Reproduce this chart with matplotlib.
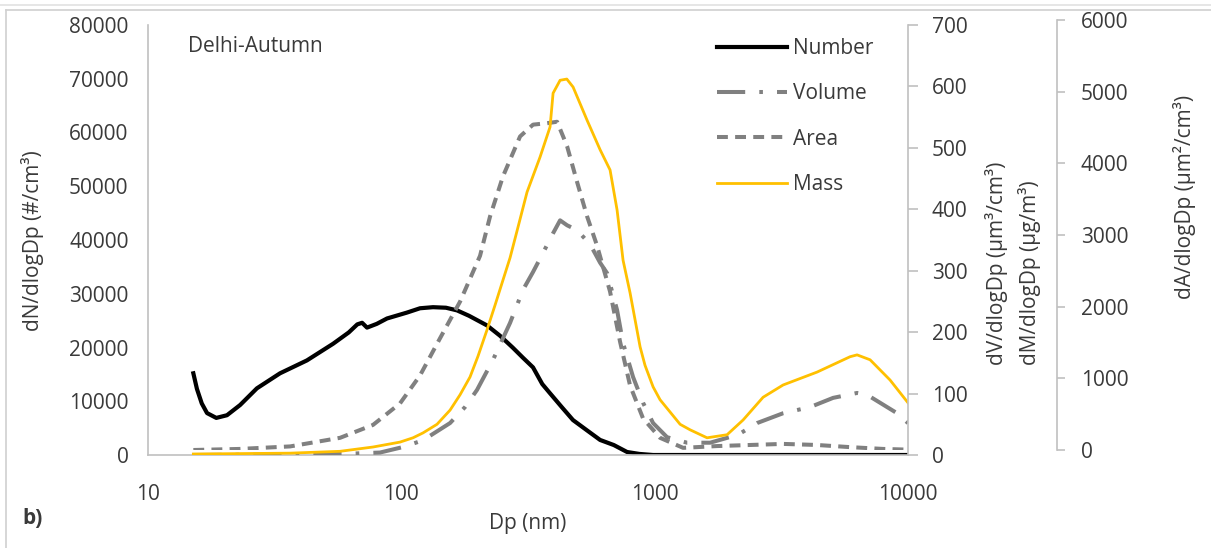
import matplotlib
matplotlib.use("Agg")
import matplotlib.pyplot as plt
from matplotlib.lines import Line2D
from matplotlib.ticker import NullLocator

plt.rcParams['font.family'] = ['Open Sans', 'DejaVu Sans']

# size distributions, Delhi autumn campaign (Dp in nm)
num_dp = [15.1, 15.6, 16.3, 17.1, 18.6, 20.5, 23.1, 26.9, 33.2, 42.4,
          53.8, 62, 67, 70, 73.2, 80, 87.8, 105.3, 118.5, 133.4,
          150, 166, 185, 218, 245, 275, 302, 331, 360, 386,
          430, 476, 540, 609, 690, 778, 870, 986, 1500, 3000, 6000, 10000]
num_val = [15200, 12300, 9600, 7800, 6900, 7400, 9300, 12400, 15200, 17600,
           20700, 22800, 24300, 24600, 23700, 24400, 25400, 26500, 27300, 27500,
           27400, 26900, 25900, 24100, 22200, 20000, 18100, 16300, 13200, 11500,
           8900, 6500, 4600, 2800, 1850, 560, 200, 0, 0, 0, 0, 0]

vol_dp = [15.1, 40, 61, 82.4, 101.6, 121.8, 155.7, 178.4, 199, 230.1,
          268.6, 302.3, 331.1, 362.5, 397.2, 423.3, 451, 494, 556, 609,
          649, 710.5, 750.4, 821.7, 900, 985.6, 1119, 1343, 1655, 2135,
          2537, 3214, 4107, 5062, 6295, 6894, 7761, 9057, 10000]
vol_val = [0, 1, 2, 4, 13, 24, 52, 78, 106, 155,
           215, 269, 298, 329, 361, 382, 374, 366, 343, 313,
           296, 236, 182, 127, 85, 52, 29, 20, 20, 33,
           52, 68, 78, 93, 101, 98, 85, 68, 52]

area_dp = [15.1, 23.1, 36.4, 57.3, 77.3, 98.8, 118.5, 142.2, 170.5, 204.5,
           224, 252, 294.2, 331.1, 376, 412, 451, 494, 541, 592.5,
           666.7, 730.2, 799.6, 900, 1050, 1295, 1764, 2381, 3214, 4377,
           5908, 7975, 10000]
area_val = [0, 15, 50, 170, 350, 650, 1040, 1560, 2070, 2710,
            3260, 3820, 4375, 4540, 4560, 4580, 4240, 3740, 3260, 2850,
            2210, 1510, 900, 440, 170, 30, 55, 70, 85, 70,
            40, 15, 5]

mass_dp = [15.1, 36.4, 57.3, 77.3, 98.8, 111.2, 121.8, 138.3, 155.7, 170.5,
           186.7, 200.8, 218, 234.4, 252, 268.6, 286.3, 313.5, 352.8, 386.4,
           397.2, 423.3, 450, 476.4, 541, 608.9, 666.7, 710.5, 750.4, 799.6,
           876, 916, 985.6, 1050, 1260, 1380, 1610, 1931, 2234, 2679,
           3214, 4377, 5908, 6295, 7085, 8497, 10000]
mass_val = [1.6, 3, 6, 13, 21, 28, 36, 50, 73, 98,
            127, 161, 204, 244, 285, 321, 365, 428, 485, 534,
            589, 610, 612, 599, 545, 497, 464, 399, 317, 264,
            176, 146, 111, 90, 50, 41, 28, 33, 57, 94,
            114, 135, 160, 163, 155, 122, 85]

xticks = [10, 100, 1000, 10000]
W, H = 1211, 548
grey_axis = '#c0c0c0'
txt = '#3a3a3a'
fs = 15


def fx(px):
    return px / W


def fy(py):
    return 1 - py / H


fig = plt.figure(figsize=(W / 100, H / 100), dpi=100)

# frame lines round the chart
fig.add_artist(Line2D([0, 1], [fy(5), fy(5)], color='#e2e2e2', lw=1.2))
fig.add_artist(Line2D([fx(6), 1], [fy(10), fy(10)], color='#d0d0d0', lw=1.2))
fig.add_artist(Line2D([fx(6), fx(6)], [fy(10), 0], color='#d0d0d0', lw=1.2))

left, right = 148, 908
ax = fig.add_axes([fx(left), fy(455), fx(right - left), (455 - 25) / H])
ax3 = fig.add_axes([fx(left), fy(450), fx(right - left), (450 - 20) / H])
ax2 = ax.twinx()

for a in (ax, ax2, ax3):
    a.set_xscale('log')
    a.set_xlim(10, 10000)
    a.patch.set_visible(False)

# number on the primary axis
l_num, = ax.plot(num_dp, num_val, color='black', lw=3.0, label='Number')
ax.set_ylim(0, 80000)
ax.set_yticks(range(0, 80001, 10000))
ax.set_xticks(xticks)
ax.set_xticklabels([str(t) for t in xticks])
ax.xaxis.set_minor_locator(NullLocator())
ax.tick_params(axis='y', length=0, pad=14, labelsize=fs, labelcolor=txt)
ax.tick_params(axis='x', length=0, pad=21, labelsize=fs, labelcolor=txt)
for s in ('top', 'right'):
    ax.spines[s].set_visible(False)
for s in ('left', 'bottom'):
    ax.spines[s].set_color(grey_axis)
    ax.spines[s].set_linewidth(1.2)

# area on its own axis, offset to the right
l_area, = ax3.plot(area_dp, area_val, color='#808080', lw=2.9,
                   linestyle=(0, (2.7, 1.8)), label='Area')
ax3.set_ylim(0, 6000)
ax3.set_yticks(range(0, 6001, 1000))
ax3.xaxis.set_visible(False)
ax3.xaxis.set_minor_locator(NullLocator())
for s in ('top', 'left', 'bottom'):
    ax3.spines[s].set_visible(False)
ax3.spines['right'].set_position(('outward', (1057 - right) * 0.72))
ax3.spines['right'].set_color(grey_axis)
ax3.spines['right'].set_linewidth(1.2)
ax3.yaxis.set_ticks_position('right')
ax3.tick_params(axis='y', direction='out', length=6, width=1.2, color=grey_axis,
                pad=11, labelsize=fs, labelcolor=txt)

# volume and mass on the secondary axis
l_vol, = ax2.plot(vol_dp, vol_val, color='#808080', lw=2.9,
                  linestyle=(0, (7, 3.5, 0.9, 3.5)), label='Volume')
l_mass, = ax2.plot(mass_dp, mass_val, color='#ffc000', lw=2.0, label='Mass')
ax2.set_ylim(0, 700)
ax2.set_yticks(range(0, 701, 100))
ax2.xaxis.set_minor_locator(NullLocator())
for s in ('top', 'left', 'bottom'):
    ax2.spines[s].set_visible(False)
ax2.spines['right'].set_color(grey_axis)
ax2.spines['right'].set_linewidth(1.2)
ax2.tick_params(axis='y', direction='out', length=7, width=1.2, color=grey_axis,
                pad=10, labelsize=fs, labelcolor=txt)

ax2.legend([l_num, l_vol, l_area, l_mass], ['Number', 'Volume', 'Area', 'Mass'],
           loc='upper left', bbox_to_anchor=(fx(717), fy(38)),
           bbox_transform=fig.transFigure, frameon=False, fontsize=fs,
           handlelength=3.35, handletextpad=0.3, labelspacing=1.17,
           borderpad=0, borderaxespad=0, labelcolor=txt)

# axis titles and annotations
fig.text(fx(528), fy(524), 'Dp (nm)', ha='center', va='center',
         fontsize=fs, color=txt)
fig.text(fx(33), fy(241), 'dN/dlogDp (#/cm³)', rotation=90, ha='center',
         va='center', fontsize=fs, color=txt)
fig.text(fx(1013), fy(365), 'dV/dlogDp (µm³/cm³)\ndM/dlogDp (µg/m³)',
         rotation=90, ha='center', va='bottom', multialignment='left',
         linespacing=1.55, fontsize=fs, color=txt)
fig.text(fx(1185), fy(197), 'dA/dlogDp (µm²/cm³)', rotation=90, ha='center',
         va='center', fontsize=fs, color=txt)
fig.text(fx(188), fy(47), 'Delhi-Autumn', ha='left', va='center',
         fontsize=fs, color=txt)
fig.text(fx(22), fy(518), 'b)', ha='left', va='center', fontsize=fs,
         fontweight='bold', color=txt)

fig.savefig('out.png', dpi=100)
